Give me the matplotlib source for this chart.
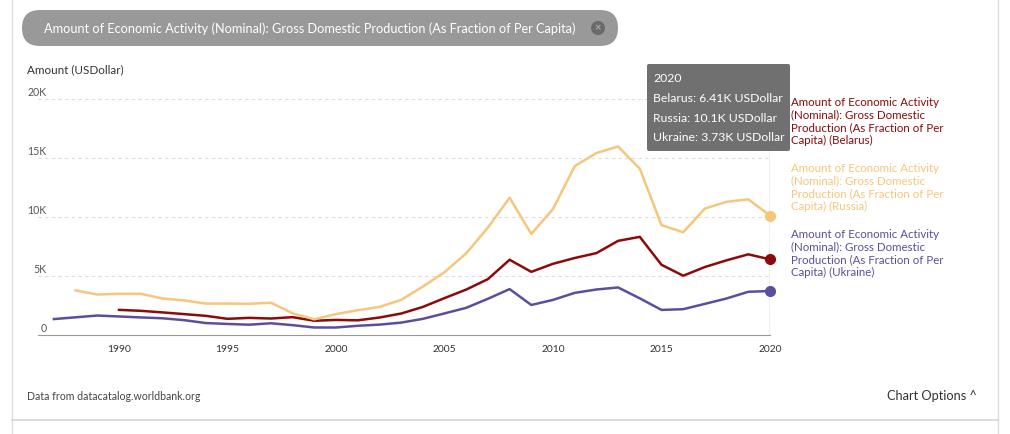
import matplotlib.pyplot as plt
from matplotlib.patches import FancyBboxPatch, Circle

plt.rcParams['font.family'] = ['Lato', 'DejaVu Sans']

# values (current USD per capita)
years_ukr = list(range(1987, 2021))
ukraine = [1350, 1500, 1650, 1570, 1490, 1418, 1258, 1012, 936, 873, 994, 835, 636, 636,
           781, 879, 1049, 1367, 1829, 2303, 3069, 3891, 2545, 2974, 3570, 3856, 4030,
           3105, 2125, 2188, 2639, 3097, 3662, 3727]
years_rus = list(range(1988, 2021))
russia = [3777, 3428, 3493, 3490, 3098, 2929, 2663, 2666, 2644, 2738, 1835, 1331, 1772,
          2100, 2377, 2975, 4102, 5323, 6920, 9101, 11635, 8563, 10675, 14311, 15421,
          15975, 14096, 9313, 8705, 10720, 11287, 11498, 10126]
years_blr = list(range(1990, 2021))
belarus = [2130, 2050, 1916, 1770, 1624, 1371, 1452, 1397, 1512, 1210, 1276, 1245, 1479,
           1819, 2378, 3126, 3849, 4735, 6377, 5352, 6034, 6526, 6940, 7979, 8318, 5949,
           5023, 5762, 6330, 6837, 6411]

indicator = 'Amount of Economic Activity (Nominal): Gross Domestic Production (As Fraction of Per Capita)'
countries = ['Belarus', 'Russia', 'Ukraine']
colors = {'Belarus': '#8b0a0a', 'Russia': '#f6c67c', 'Ukraine': '#5c4e9e'}
tooltip_vals = ['6.41K', '10.1K', '3.73K']
yticks = [0, 5000, 10000, 15000, 20000]

W, H = 1010, 434
fig = plt.figure(figsize=(W / 100, H / 100), dpi=100)

# page overlay in pixel coords
bg = fig.add_axes([0, 0, 1, 1])
bg.set_xlim(0, W)
bg.set_ylim(H, 0)
bg.axis('off')

# card borders
bg.plot([12, 12], [0, H], color='#dddddd', lw=1)
bg.plot([998, 998], [0, H], color='#dddddd', lw=1)
bg.plot([12, 998], [420, 420], color='#d6d6d6', lw=1.2)

# chip with indicator name
chip = FancyBboxPatch((22, 10), 596, 36, boxstyle='round,pad=0,rounding_size=18',
                      fc='#999999', ec='none')
bg.add_patch(chip)
bg.text(44, 28.5, indicator, color='white', fontsize=9.2, va='center', ha='left')
bg.add_patch(Circle((598, 28), 7, fc='#6a6a6a', ec='none'))
bg.text(598, 28, '×', color='#aaaaaa', fontsize=8, ha='center', va='center',
        fontweight='bold')

bg.text(27, 70, 'Amount (USDollar)', color='#333333', fontsize=8.4, va='center')

# footer
bg.text(27, 397, 'Data from datacatalog.worldbank.org', color='#444444', fontsize=7.6,
        va='center')
bg.text(887, 396, 'Chart Options ^', color='#333333', fontsize=9.2, va='center')

# plot area
left, right, top, bottom = 38, 770, 64, 335
ax = fig.add_axes([left / W, 1 - bottom / H, (right - left) / W, (bottom - top) / H])
px_per_year = 21.7
ax.set_xlim(2020 - (right - left) / px_per_year, 2020)
ax.set_ylim(0, (bottom - top) / 59 * 5000)
for s in ['top', 'right', 'left']:
    ax.spines[s].set_visible(False)
ax.spines['bottom'].set_color('#999999')
ax.set_yticks([])
ax.set_xticks(range(1990, 2021, 5))
ax.tick_params(axis='x', length=0, labelsize=7.4, labelcolor='#333333', pad=7)
ax.patch.set_alpha(0)

for y in yticks:
    if y > 0:
        ax.axhline(y, color='#dddddd', lw=0.8, ls=(0, (3, 3)), zorder=0)
    ax.annotate('0' if y == 0 else f'{y // 1000}K', xy=(0, y), xycoords=('axes fraction', 'data'),
                xytext=(6, 4.8), textcoords='offset points', ha='right', va='center',
                fontsize=7.6, color='#555555', annotation_clip=False)

ax.plot(years_ukr, ukraine, color=colors['Ukraine'], lw=1.8, zorder=3)
ax.plot(years_blr, belarus, color=colors['Belarus'], lw=1.8, zorder=3)
ax.plot(years_rus, russia, color=colors['Russia'], lw=1.8, zorder=3)
ax.axvline(2020, color='#aaaaaa', lw=1, zorder=2)
for years, vals, c in [(years_blr, belarus, 'Belarus'), (years_rus, russia, 'Russia'),
                       (years_ukr, ukraine, 'Ukraine')]:
    ax.plot(years[-1], vals[-1], 'o', ms=7, color=colors[c], zorder=4, clip_on=False)

# overlay on top of the plot for labels and tooltip
fg = fig.add_axes([0, 0, 1, 1])
fg.set_xlim(0, W)
fg.set_ylim(H, 0)
fg.axis('off')

# series labels on the right
label_tops = [97, 163, 229]
for c, yt in zip(countries, label_tops):
    txt = ('Amount of Economic Activity\n(Nominal): Gross Domestic\n'
           'Production (As Fraction of Per\nCapita) (' + c + ')')
    fg.text(791, yt, txt, color=colors[c], fontsize=8.3, va='top', ha='left',
            linespacing=1.17)

# tooltip
tip = FancyBboxPatch((647, 64), 143, 87, boxstyle='round,pad=0,rounding_size=2',
                     fc='#6b6b6b', ec='none', alpha=0.97)
fg.add_patch(tip)
tip_lines = ['2020'] + [f'{c}: {v} USDollar' for c, v in zip(countries, tooltip_vals)]
for i, line in enumerate(tip_lines):
    fg.text(653, 79 + i * 19.5, line, color='white', fontsize=8.8, va='center',
            ha='left')

fig.savefig('out.png', dpi=100)
